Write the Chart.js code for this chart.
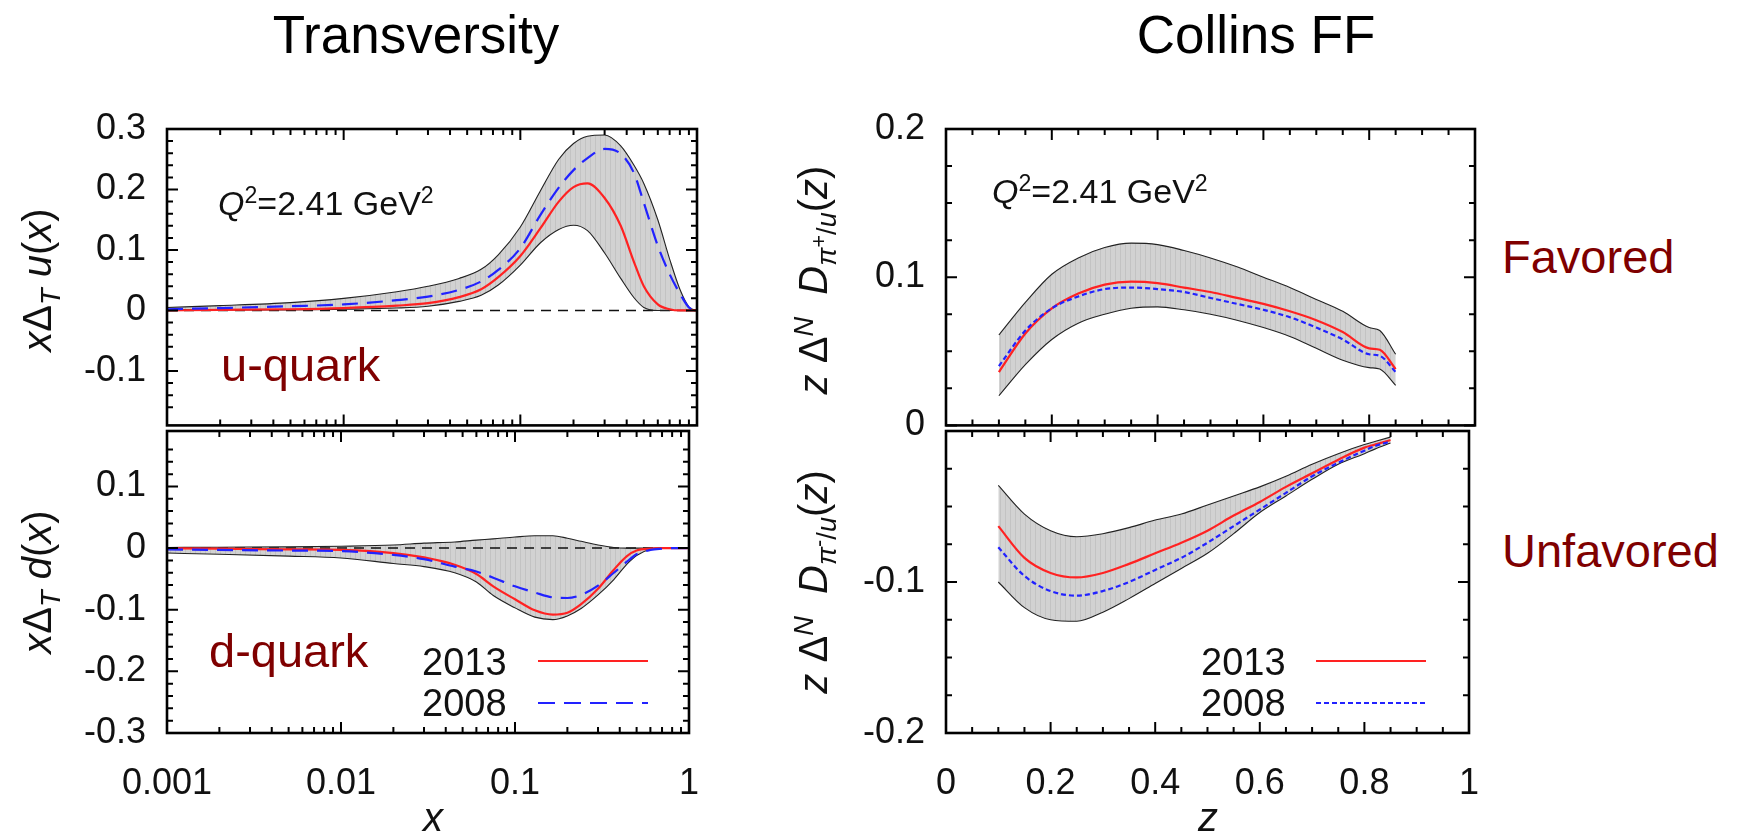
<!DOCTYPE html>
<html>
<head>
<meta charset="utf-8">
<script src="https://cdn.jsdelivr.net/npm/chart.js@4.4.1/dist/chart.umd.min.js"></script>
<style>
body { margin:0; background:#fff; width:1742px; height:838px; overflow:hidden; position:relative; font-family:'Liberation Sans', Arial, sans-serif; }
canvas { position:absolute; }
.t { position:absolute; white-space:nowrap; line-height:1; color:#000; }
.c { transform:translate(-50%,-50%); }
.l { transform:translateY(-50%); }
.rot { transform:translate(-50%,-50%) rotate(-90deg); }
.red { color:#7f0000; font-size:47px; }
sub, sup { font-size:0.68em; line-height:0; }
sub sup { font-size:0.8em; }
.q { font-size:34px; color:#111; }
.ax { font-size:40px; color:#111; }
.lg { font-size:38px; color:#111; }
</style>
</head>
<body>
<canvas id="lt" width="720" height="460" style="left:0;top:0"></canvas>
<canvas id="lb" width="720" height="458" style="left:0;top:380px"></canvas>
<canvas id="rt" width="740" height="460" style="left:760px;top:0"></canvas>
<canvas id="rb" width="740" height="458" style="left:760px;top:380px"></canvas>

<div class="t c" style="left:416px;top:34px;font-size:53px">Transversity</div>
<div class="t c" style="left:1256px;top:34px;font-size:53px">Collins FF</div>

<div class="t rot ax" style="left:37px;top:280px"><i>x</i>Δ<sub><i>T</i></sub> <i>u</i>(<i>x</i>)</div>
<div class="t rot ax" style="left:37px;top:582px"><i>x</i>Δ<sub><i>T</i></sub> <i>d</i>(<i>x</i>)</div>
<div class="t rot ax" style="left:813px;top:280px"><i>z</i> Δ<sup><i>N</i></sup>&nbsp; <i>D</i><sub><i>π</i><sup>+</sup>/<i>u</i></sub>(<i>z</i>)</div>
<div class="t rot ax" style="left:813px;top:582px"><i>z</i> Δ<sup><i>N</i></sup>&nbsp; <i>D</i><sub><i>π</i><sup>-</sup>/<i>u</i></sub>(<i>z</i>)</div>
<div class="t c ax" style="left:433px;top:817px"><i>x</i></div>
<div class="t c ax" style="left:1208px;top:817px"><i>z</i></div>

<div class="t l q" style="left:218px;top:203px"><i>Q</i><sup>2</sup>=2.41 GeV<sup>2</sup></div>
<div class="t l q" style="left:992px;top:191px"><i>Q</i><sup>2</sup>=2.41 GeV<sup>2</sup></div>

<div class="t l red" style="left:221px;top:364px">u-quark</div>
<div class="t l red" style="left:209px;top:650px">d-quark</div>
<div class="t l red" style="left:1502px;top:256px">Favored</div>
<div class="t l red" style="left:1502px;top:550px">Unfavored</div>

<div class="t l lg" style="left:422px;top:662px">2013</div>
<div class="t l lg" style="left:422px;top:703px">2008</div>
<svg class="t" style="left:538px;top:651px" width="112" height="60">
  <line x1="0" y1="10" x2="110" y2="10" stroke="#ff2222" stroke-width="2.2"/>
  <line x1="0" y1="52" x2="110" y2="52" stroke="#2222ff" stroke-width="2.2" stroke-dasharray="17 9"/>
</svg>
<div class="t l lg" style="left:1201px;top:662px">2013</div>
<div class="t l lg" style="left:1201px;top:703px">2008</div>
<svg class="t" style="left:1316px;top:651px" width="112" height="60">
  <line x1="0" y1="10" x2="110" y2="10" stroke="#ff2222" stroke-width="2.2"/>
  <line x1="0" y1="52" x2="110" y2="52" stroke="#2222ff" stroke-width="2.2" stroke-dasharray="5 3"/>
</svg>

<script>
// transversity, x grid (log)
const xPdf = [0.001, 0.002, 0.005, 0.01, 0.02, 0.03, 0.045, 0.06, 0.075, 0.1, 0.13, 0.165, 0.2, 0.24, 0.3, 0.37, 0.44, 0.5, 0.6, 0.7, 0.8, 0.9, 1.0];
const uUpper = [0.005, 0.008, 0.013, 0.02, 0.031, 0.04, 0.053, 0.068, 0.092, 0.138, 0.198, 0.25, 0.276, 0.288, 0.29, 0.272, 0.24, 0.21, 0.15, 0.085, 0.035, 0.006, 0];
const uLower = [0.001, 0.001, 0.001, 0.002, 0.004, 0.007, 0.015, 0.025, 0.042, 0.075, 0.112, 0.134, 0.141, 0.132, 0.095, 0.053, 0.021, 0.005, 0, 0, 0, 0, 0];
const u2013 = [0, 0.001, 0.002, 0.004, 0.008, 0.012, 0.022, 0.035, 0.055, 0.09, 0.136, 0.18, 0.204, 0.21, 0.186, 0.14, 0.08, 0.04, 0.01, 0.002, 0, 0, 0];
const u2008 = [0.002, 0.004, 0.007, 0.01, 0.017, 0.023, 0.034, 0.048, 0.067, 0.103, 0.158, 0.203, 0.232, 0.252, 0.267, 0.259, 0.227, 0.178, 0.107, 0.06, 0.028, 0.005, 0];
const dUpper = [0.001, 0.0015, 0.002, 0.003, 0.005, 0.008, 0.01, 0.013, 0.015, 0.018, 0.02, 0.02, 0.016, 0.011, 0.005, 0.001, 0, 0, 0, 0, 0, 0, 0];
const dLower = [-0.008, -0.01, -0.013, -0.016, -0.025, -0.03, -0.04, -0.055, -0.077, -0.097, -0.112, -0.116, -0.11, -0.098, -0.076, -0.051, -0.026, -0.012, -0.002, 0, 0, 0, 0];
const d2013 = [0, -0.001, -0.002, -0.003, -0.008, -0.015, -0.027, -0.042, -0.062, -0.083, -0.101, -0.108, -0.105, -0.091, -0.066, -0.035, -0.013, -0.004, -0.001, 0, 0, 0, 0];
const d2008 = [-0.002, -0.003, -0.004, -0.005, -0.011, -0.018, -0.03, -0.038, -0.048, -0.062, -0.072, -0.08, -0.081, -0.076, -0.061, -0.04, -0.022, -0.01, -0.003, -0.001, 0, 0, 0];

// Collins FF, z grid
const zFF = [0.1, 0.15, 0.2, 0.25, 0.3, 0.35, 0.4, 0.45, 0.5, 0.55, 0.6, 0.65, 0.7, 0.75, 0.8, 0.82, 0.85];
const favUpper = [0.061, 0.083, 0.102, 0.113, 0.12, 0.123, 0.122, 0.118, 0.113, 0.107, 0.1, 0.093, 0.085, 0.077, 0.066, 0.064, 0.048];
const favLower = [0.02, 0.041, 0.058, 0.069, 0.075, 0.079, 0.08, 0.078, 0.075, 0.071, 0.066, 0.06, 0.052, 0.044, 0.039, 0.038, 0.027];
const fav2013 = [0.036, 0.062, 0.079, 0.089, 0.095, 0.097, 0.096, 0.093, 0.09, 0.086, 0.082, 0.077, 0.071, 0.063, 0.052, 0.051, 0.038];
const fav2008 = [0.04, 0.064, 0.079, 0.087, 0.092, 0.093, 0.092, 0.09, 0.086, 0.082, 0.078, 0.073, 0.066, 0.058, 0.048, 0.047, 0.036];
const unfUpper = [-0.036, -0.055, -0.066, -0.07, -0.068, -0.064, -0.059, -0.055, -0.049, -0.043, -0.037, -0.03, -0.022, -0.015, -0.009, -0.007, -0.004];
const unfLower = [-0.1, -0.117, -0.125, -0.126, -0.12, -0.111, -0.101, -0.091, -0.081, -0.068, -0.054, -0.043, -0.032, -0.022, -0.015, -0.012, -0.008];
const unf2013 = [-0.063, -0.084, -0.094, -0.097, -0.094, -0.088, -0.081, -0.074, -0.066, -0.056, -0.047, -0.037, -0.028, -0.019, -0.011, -0.009, -0.006];
const unf2008 = [-0.077, -0.096, -0.106, -0.109, -0.106, -0.1, -0.092, -0.084, -0.074, -0.063, -0.052, -0.041, -0.03, -0.021, -0.013, -0.01, -0.007];

// tick labels
const xLogLabels = [0.001, 0.01, 0.1, 1];
const zLabels = [0, 0.2, 0.4, 0.6, 0.8, 1];
const yLabelsLT = [0.3, 0.2, 0.1, 0, -0.1];
const yLabelsLB = [0.1, 0, -0.1, -0.2, -0.3];
const yLabelsRT = [0.2, 0.1, 0];
const yLabelsRB = [-0.1, -0.2];

Chart.defaults.font.family = "'Liberation Sans', Arial, sans-serif";
Chart.defaults.color = '#111';

const onStep = (v, s) => Math.abs(v / s - Math.round(v / s)) < 1e-6;
const pick = list => v => { const l = list.find(l => Math.abs(l - v) < 1e-9); return l === undefined ? '' : String(l); };

// inward tick length: 0 = none
const logLen = v => {
  const m = v / Math.pow(10, Math.floor(Math.log10(v) + 1e-9));
  if (!onStep(m, 1)) return 0;
  return Math.round(m) === 1 ? 11 : 6;
};
const linLen = (minor, major) => v => !onStep(v, minor) ? 0 : (onStep(v, major) ? 11 : 6);

// band hatch
const pc = document.createElement('canvas');
pc.width = 5; pc.height = 5;
const pg = pc.getContext('2d');
pg.fillStyle = '#d2d2d2'; pg.fillRect(0, 0, 5, 5);
pg.fillStyle = '#c3c3c3'; pg.fillRect(0, 0, 1, 5);
const hatch = pg.createPattern(pc, 'repeat');

function makeFrame(xLen, yLen, zero) {
  return {
    id: 'frame',
    beforeDatasetsDraw(chart) {
      if (!zero) return;
      const { ctx, chartArea: a, scales: { y } } = chart;
      const py = y.getPixelForValue(0);
      ctx.save();
      ctx.setLineDash([10, 7]);
      ctx.lineWidth = 1.5;
      ctx.strokeStyle = '#111';
      ctx.beginPath(); ctx.moveTo(a.left, py); ctx.lineTo(a.right, py); ctx.stroke();
      ctx.restore();
    },
    afterDraw(chart) {
      const { ctx, chartArea: a, scales: { x, y } } = chart;
      ctx.save();
      ctx.strokeStyle = '#000';
      ctx.lineWidth = 2;
      ctx.beginPath();
      x.ticks.forEach(t => {
        const len = xLen(t.value); if (!len) return;
        const px = x.getPixelForValue(t.value);
        ctx.moveTo(px, a.top); ctx.lineTo(px, a.top + len);
        ctx.moveTo(px, a.bottom); ctx.lineTo(px, a.bottom - len);
      });
      y.ticks.forEach(t => {
        const len = yLen(t.value); if (!len) return;
        const py = y.getPixelForValue(t.value);
        ctx.moveTo(a.left, py); ctx.lineTo(a.left + len, py);
        ctx.moveTo(a.right, py); ctx.lineTo(a.right - len, py);
      });
      ctx.stroke();
      ctx.lineWidth = 2.6;
      ctx.strokeRect(a.left, a.top, a.width, a.height);
      ctx.restore();
    }
  };
}

function bandSets(xs, hi, lo, red, blue, dash) {
  const pts = ys => xs.map((x, i) => ({ x, y: ys[i] }));
  const base = { pointRadius: 0, cubicInterpolationMode: 'monotone' };
  return [
    { ...base, label: '2008', data: pts(blue), borderColor: '#2222ff', borderWidth: 2.2, borderDash: dash, order: 0 },
    { ...base, label: '2013', data: pts(red), borderColor: '#ff2222', borderWidth: 2.2, order: 1 },
    { ...base, label: 'upper', data: pts(hi), borderColor: '#222', borderWidth: 1.1, fill: 3, backgroundColor: hatch, order: 2 },
    { ...base, label: 'lower', data: pts(lo), borderColor: '#222', borderWidth: 1.1, fill: false, order: 3 }
  ];
}

function panel(id, p) {
  new Chart(document.getElementById(id), {
    type: 'line',
    data: { datasets: bandSets(p.xs, p.hi, p.lo, p.red, p.blue, p.dash) },
    options: {
      responsive: false,
      animation: false,
      devicePixelRatio: 1,
      layout: { padding: { top: p.top, right: p.right, left: 0, bottom: 0 } },
      plugins: { legend: { display: false }, tooltip: { enabled: false }, filler: { drawTime: 'beforeDatasetsDraw' } },
      scales: {
        x: {
          type: p.log ? 'logarithmic' : 'linear', min: p.xMin, max: p.xMax, position: 'bottom',
          grid: { display: false }, border: { display: false },
          ticks: { display: p.xShow, autoSkip: false, maxRotation: 0, padding: 21, font: { size: 36 }, color: '#111',
                   stepSize: p.xStep, callback: pick(p.xLabels) },
          afterFit: s => { s.height = p.xH; }
        },
        y: {
          type: 'linear', min: p.yMin, max: p.yMax,
          grid: { display: false }, border: { display: false },
          ticks: { autoSkip: false, padding: 13, font: { size: 36 }, color: '#111', stepSize: p.yStep, callback: pick(p.yLabels) },
          afterFit: s => { s.width = p.yW; }
        }
      }
    },
    plugins: [makeFrame(p.log ? logLen : linLen(0.05, 0.2), linLen(p.yStep, 0.1), p.log)]
  });
}

// 描画
const left = { xs: xPdf, log: true, xMin: 0.001, xMax: 1, xLabels: xLogLabels, dash: [16, 9], yStep: 0.02, yW: 167, right: 23 };
const right = { xs: zFF, log: false, xMin: 0, xMax: 1, xStep: 0.05, xLabels: zLabels, dash: [5, 3], yStep: 0.025, yW: 186, right: 25 };

panel('lt', { ...left, hi: uUpper, lo: uLower, red: u2013, blue: u2008, yMin: -0.19, yMax: 0.3, yLabels: yLabelsLT, top: 129, xH: 29, xShow: false });
panel('lb', { ...left, hi: dUpper, lo: dLower, red: d2013, blue: d2008, yMin: -0.3, yMax: 0.19, yLabels: yLabelsLB, top: 51, xH: 105, xShow: true });
panel('rt', { ...right, hi: favUpper, lo: favLower, red: fav2013, blue: fav2008, yMin: 0, yMax: 0.2, yLabels: yLabelsRT, top: 129, xH: 29, xShow: false });
panel('rb', { ...right, hi: unfUpper, lo: unfLower, red: unf2013, blue: unf2008, yMin: -0.2, yMax: 0, yLabels: yLabelsRB, top: 51, xH: 105, xShow: true });
</script>
</body>
</html>
